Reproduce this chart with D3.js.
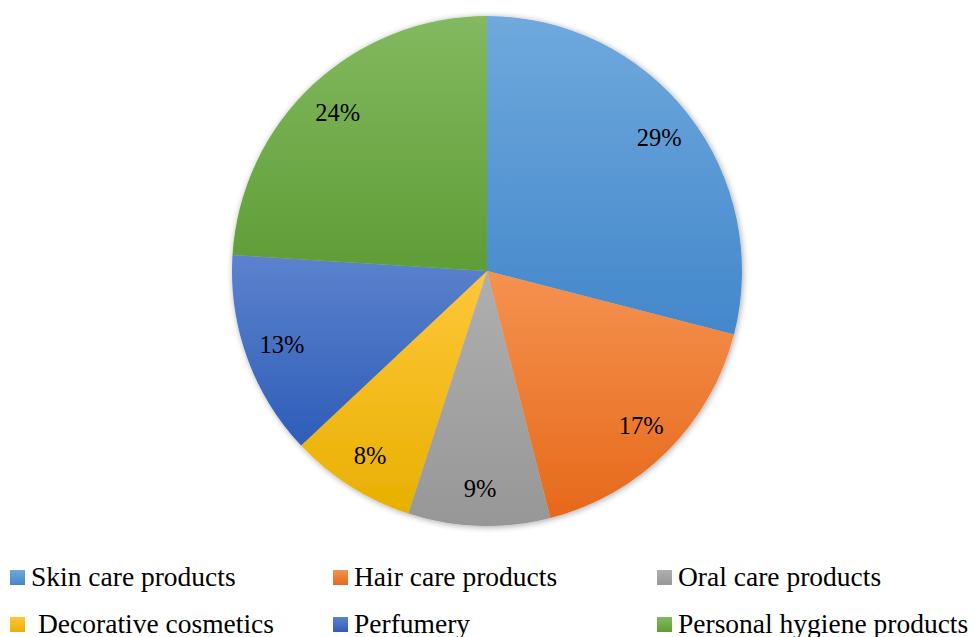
<!DOCTYPE html>
<html><head><meta charset="utf-8">
<script src="https://cdn.jsdelivr.net/npm/d3@7"></script>
<style>body{margin:0;background:#fff}svg{display:block}</style>
</head><body>
<script>
const categories = ["Skin care products","Hair care products","Oral care products","Decorative cosmetics","Perfumery","Personal hygiene products"];
const values = [29,17,9,8,13,24];
const labels = ["29%","17%","9%","8%","13%","24%"];
const colorsTop = ["#6FA9DD","#F5924F","#AFAFAF","#FFC73A","#5C82CD","#83B960"];
const colorsBot = ["#4387CB","#E6691B","#979797","#E8B000","#2E5DB8","#5F9D36"];
const FONT='"Liberation Serif"';

const W=975,H=637;
const svg=d3.select("body").append("svg").attr("width",W).attr("height",H);
const defs=svg.append("defs");
const f=defs.append("filter").attr("id","sh").attr("x","-10%").attr("y","-10%").attr("width","120%").attr("height","120%");
f.append("feDropShadow").attr("dx",1).attr("dy",1).attr("stdDeviation",3).attr("flood-color","#000").attr("flood-opacity",0.35);
categories.forEach((c,i)=>{
  const g=defs.append("linearGradient").attr("id","g"+i).attr("x1",0).attr("y1",0).attr("x2",0).attr("y2",1);
  g.append("stop").attr("offset","0%").attr("stop-color",colorsTop[i]);
  g.append("stop").attr("offset","100%").attr("stop-color",colorsBot[i]);
});
const cx=487,cy=271,R=255;
const pie=d3.pie().sort(null).value(d=>d)(values);
const arc=d3.arc().innerRadius(0).outerRadius(R);
const lab=d3.arc().innerRadius(218).outerRadius(218);
const gp=svg.append("g").attr("transform",`translate(${cx},${cy})`);
gp.append("g").attr("filter","url(#sh)").selectAll("path").data(pie).join("path")
  .attr("d",arc).attr("fill",(d,i)=>`url(#g${i})`);
gp.selectAll("text").data(pie).join("text")
  .attr("transform",d=>`translate(${lab.centroid(d)})`)
  .attr("text-anchor","middle").attr("dy","0.35em")
  .style("font-family",FONT).style("font-size","24.5px").attr("fill","#000")
  .text((d,i)=>labels[i]);

const lx=[10,333,657], ly=[570,617];
const lg=svg.append("g");
categories.forEach((c,i)=>{
  const col=i%3,row=Math.floor(i/3);
  lg.append("rect").attr("x",lx[col]).attr("y",ly[row]).attr("width",15).attr("height",15).attr("fill",`url(#g${i})`);
  lg.append("text").attr("x",lx[col]+(i===3?28:21)).attr("y",ly[row]+16)
    .style("font-family",FONT).style("font-size","27.5px").attr("fill","#000")
    .text(c);
});
</script>
</body></html>
